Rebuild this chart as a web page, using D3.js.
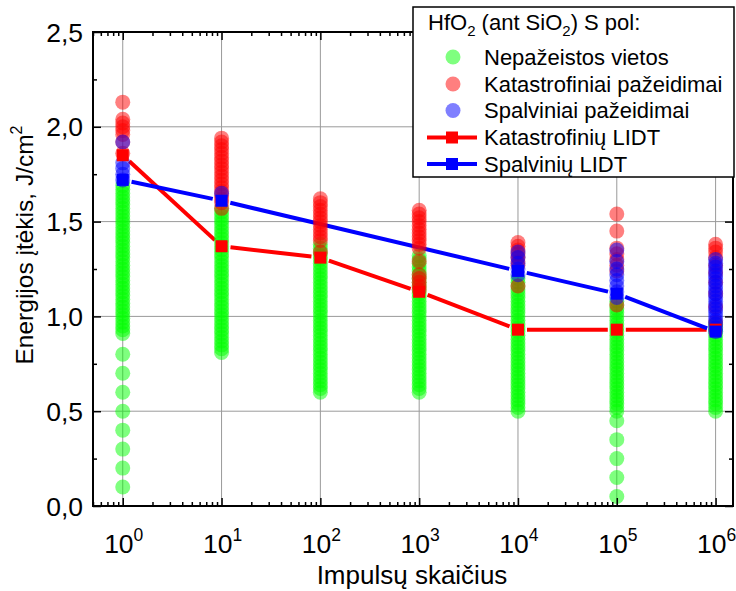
<!DOCTYPE html>
<html>
<head>
<meta charset="utf-8">
<script src="https://cdn.jsdelivr.net/npm/d3@7"></script>
<style>
body { margin: 0; background: #fff; }
svg { font-family: "Liberation Sans", Arial, sans-serif; }
</style>
</head>
<body>
<svg id="chart" width="736" height="591"></svg>
<script>
// pulse counts (x) for each column of measurements
let pulses = [1, 10, 100, 1000, 10000, 100000, 1000000];

// Nepažeistos vietos (undamaged sites), fluence J/cm2 per column
let intact = [
    [0.10, 0.20, 0.30, 0.40, 0.50, 0.60, 0.70, 0.80, 0.91, 0.93, 0.95, 0.97, 0.99, 1.01, 1.03, 1.05, 1.07, 1.09, 1.11, 1.13, 1.15, 1.17, 1.19, 1.21, 1.23, 1.25, 1.27, 1.29, 1.31, 1.33, 1.35, 1.37, 1.39, 1.41, 1.43, 1.45, 1.47, 1.49, 1.51, 1.53, 1.55, 1.57, 1.59, 1.61, 1.63, 1.65, 1.67, 1.69],
    [0.81, 0.83, 0.85, 0.87, 0.89, 0.91, 0.93, 0.95, 0.97, 0.99, 1.01, 1.03, 1.05, 1.07, 1.09, 1.11, 1.13, 1.15, 1.17, 1.19, 1.21, 1.23, 1.25, 1.27, 1.29, 1.31, 1.33, 1.35, 1.37, 1.39, 1.41, 1.43, 1.45, 1.47, 1.49, 1.51, 1.53, 1.55, 1.57],
    [0.60, 0.62, 0.64, 0.66, 0.68, 0.70, 0.72, 0.74, 0.76, 0.78, 0.80, 0.82, 0.84, 0.86, 0.88, 0.90, 0.92, 0.94, 0.96, 0.98, 1.00, 1.02, 1.04, 1.06, 1.08, 1.10, 1.12, 1.14, 1.16, 1.18, 1.20, 1.22, 1.24, 1.26, 1.28, 1.30, 1.32, 1.34, 1.36, 1.38],
    [0.60, 0.62, 0.64, 0.66, 0.68, 0.70, 0.72, 0.74, 0.76, 0.78, 0.80, 0.82, 0.84, 0.86, 0.88, 0.90, 0.92, 0.94, 0.96, 0.98, 1.00, 1.02, 1.04, 1.06, 1.08, 1.10, 1.12, 1.14, 1.16, 1.18, 1.20, 1.22, 1.24, 1.26, 1.28, 1.30, 1.32],
    [0.50, 0.52, 0.54, 0.56, 0.58, 0.60, 0.62, 0.64, 0.66, 0.68, 0.70, 0.72, 0.74, 0.76, 0.78, 0.80, 0.82, 0.84, 0.86, 0.88, 0.90, 0.92, 0.94, 0.96, 0.98, 1.00, 1.02, 1.04, 1.06, 1.08, 1.10, 1.12, 1.14, 1.16, 1.18, 1.20],
    [0.05, 0.15, 0.25, 0.35, 0.45, 0.50, 0.52, 0.54, 0.56, 0.58, 0.60, 0.62, 0.64, 0.66, 0.68, 0.70, 0.72, 0.74, 0.76, 0.78, 0.80, 0.82, 0.84, 0.86, 0.88, 0.90, 0.92, 0.94, 0.96, 0.98, 1.00, 1.02, 1.04, 1.06, 1.08],
    [0.50, 0.52, 0.54, 0.56, 0.58, 0.60, 0.62, 0.64, 0.66, 0.68, 0.70, 0.72, 0.74, 0.76, 0.78, 0.80, 0.82, 0.84, 0.86, 0.88, 0.90, 0.92, 0.94, 0.96]
];
// Katastrofiniai pažeidimai
let catastrophic = [
    [1.86, 1.92, 1.96, 1.98, 2.00, 2.02, 2.04, 2.13],
    [1.57, 1.60, 1.62, 1.64, 1.66, 1.68, 1.70, 1.72, 1.74, 1.76, 1.78, 1.80, 1.82, 1.84, 1.86, 1.88, 1.90, 1.92, 1.94],
    [1.34, 1.40, 1.42, 1.44, 1.46, 1.48, 1.50, 1.52, 1.54, 1.56, 1.58, 1.60, 1.62],
    [1.14, 1.16, 1.18, 1.20, 1.22, 1.29, 1.36, 1.38, 1.40, 1.42, 1.44, 1.46, 1.48, 1.50, 1.52, 1.54, 1.56],
    [1.16, 1.27, 1.29, 1.31, 1.33, 1.35, 1.37, 1.39],
    [1.06, 1.24, 1.27, 1.30, 1.33, 1.36, 1.45, 1.54],
    [0.97, 1.05, 1.12, 1.18, 1.23, 1.27, 1.31, 1.34, 1.36, 1.38]
];
// Spalviniai pažeidimai
let colour = [
    [1.72, 1.75, 1.78, 1.81, 1.92],
    [1.65],
    [],
    [],
    [1.22, 1.25, 1.28, 1.31, 1.34],
    [1.10, 1.13, 1.16, 1.19, 1.22, 1.25, 1.29, 1.35],
    [0.92, 0.94, 0.96, 0.98, 1.00, 1.02, 1.04, 1.06, 1.08, 1.10, 1.12, 1.14, 1.16, 1.18, 1.20, 1.22, 1.24, 1.26, 1.28, 1.30]
];
let catLidt = [1.85, 1.37, 1.31, 1.13, 0.93, 0.93, 0.93];
let colLidt = [1.72, 1.61, null, null, 1.24, 1.12, 0.92];

let yTicks = [0, 0.5, 1.0, 1.5, 2.0, 2.5];
let yMinor = [0.25, 0.75, 1.25, 1.75, 2.25];
let xTicks = [1, 10, 100, 1000, 10000, 100000, 1000000];
let xExp = ["0", "1", "2", "3", "4", "5", "6"];

let svg = d3.select("#chart");
let pL = 93, pR = 733, pT = 32, pB = 506;

let x = d3.scaleLog().domain([0.5, 1.5e6]).range([pL, pR]);
let y = d3.scaleLinear().domain([0, 2.5]).range([pB, pT]);

// grid
svg.append("g").selectAll("line").data(xTicks).enter().append("line")
    .attr("x1", d => x(d)).attr("x2", d => x(d))
    .attr("y1", pT).attr("y2", pB)
    .attr("stroke", "#9a9a9a").attr("stroke-width", 1);
svg.append("g").selectAll("line").data(yTicks.slice(1, 5)).enter().append("line")
    .attr("x1", pL).attr("x2", pR)
    .attr("y1", d => y(d)).attr("y2", d => y(d))
    .attr("stroke", "#9a9a9a").attr("stroke-width", 1);

// LIDT lines, with a gap around each symbol
let gap = 9;
let drawLine = function(vals, col) {
    let pts = [];
    vals.forEach((v, i) => { if (v != null) pts.push([x(pulses[i]), y(v)]); });
    let segs = [];
    for (let i = 0; i < pts.length - 1; i++) {
        let a = pts[i], b = pts[i + 1];
        let dx = b[0] - a[0], dy = b[1] - a[1];
        let len = Math.sqrt(dx * dx + dy * dy);
        segs.push([a[0] + dx / len * gap, a[1] + dy / len * gap, b[0] - dx / len * gap, b[1] - dy / len * gap]);
    }
    svg.append("g").selectAll("line").data(segs).enter().append("line")
        .attr("x1", d => d[0]).attr("y1", d => d[1])
        .attr("x2", d => d[2]).attr("y2", d => d[3])
        .attr("stroke", col).attr("stroke-width", 4);
};
drawLine(catLidt, "#ff0000");
drawLine(colLidt, "#0000ff");

// scatter
let flat = function(arr) {
    let out = [];
    arr.forEach((col, i) => col.forEach(v => out.push({ n: pulses[i], v: v })));
    return out;
};
let drawDots = function(arr, col) {
    svg.append("g").selectAll("circle").data(flat(arr)).enter().append("circle")
        .attr("cx", d => x(d.n)).attr("cy", d => y(d.v)).attr("r", 7.5)
        .attr("fill", col).attr("fill-opacity", 0.5);
};
drawDots(intact, "#00ff00");
drawDots(catastrophic, "#ff0000");
drawDots(colour, "#0000ff");

// LIDT symbols
let drawSquares = function(vals, col) {
    let pts = [];
    vals.forEach((v, i) => { if (v != null) pts.push({ n: pulses[i], v: v }); });
    svg.append("g").selectAll("rect").data(pts).enter().append("rect")
        .attr("x", d => x(d.n) - 6).attr("y", d => y(d.v) - 6)
        .attr("width", 12).attr("height", 12).attr("fill", col);
};
drawSquares(catLidt, "#ff0000");
drawSquares(colLidt, "#0000ff");

// axes (ticks inward on all four sides)
let minorX = x.ticks().filter(t => xTicks.indexOf(t) < 0);
let axStyle = function(g) {
    g.select(".domain").remove();
    g.selectAll(".tick line").attr("stroke", "#000").attr("stroke-width", 1.5);
    g.selectAll(".tick text").remove();
};
svg.append("g").attr("transform", `translate(0,${pB})`)
    .call(d3.axisBottom(x).tickValues(minorX).tickSize(-4)).call(axStyle);
svg.append("g").attr("transform", `translate(0,${pB})`)
    .call(d3.axisBottom(x).tickValues(xTicks).tickSize(-8)).call(axStyle);
svg.append("g").attr("transform", `translate(0,${pT})`)
    .call(d3.axisTop(x).tickValues(minorX).tickSize(-4)).call(axStyle);
svg.append("g").attr("transform", `translate(0,${pT})`)
    .call(d3.axisTop(x).tickValues(xTicks).tickSize(-8)).call(axStyle);
svg.append("g").attr("transform", `translate(${pL},0)`)
    .call(d3.axisLeft(y).tickValues(yTicks).tickSize(-8)).call(axStyle);
svg.append("g").attr("transform", `translate(${pL},0)`)
    .call(d3.axisLeft(y).tickValues(yMinor).tickSize(-4)).call(axStyle);
svg.append("g").attr("transform", `translate(${pR},0)`)
    .call(d3.axisRight(y).tickValues(yTicks).tickSize(-8)).call(axStyle);
svg.append("g").attr("transform", `translate(${pR},0)`)
    .call(d3.axisRight(y).tickValues(yMinor).tickSize(-4)).call(axStyle);

svg.append("rect").attr("x", pL).attr("y", pT)
    .attr("width", pR - pL).attr("height", pB - pT)
    .attr("fill", "none").attr("stroke", "#000").attr("stroke-width", 2);

// tick labels
svg.append("g").selectAll("text").data(yTicks).enter().append("text")
    .attr("x", 83).attr("y", d => y(d)).attr("dy", "0.36em")
    .attr("text-anchor", "end").attr("font-size", 26.5)
    .text(d => d3.format(".1f")(d).replace(".", ","));
let xl = svg.append("g").selectAll("text").data(xTicks).enter().append("text")
    .attr("x", d => x(d) + 1).attr("y", 553)
    .attr("text-anchor", "middle").attr("font-size", 26.5);
xl.append("tspan").text("10");
xl.append("tspan").attr("dy", -12).attr("font-size", 17.5).text((d, i) => xExp[i]);

// axis titles
svg.append("text").attr("x", 412).attr("y", 584).attr("text-anchor", "middle")
    .attr("font-size", 26).text("Impulsų skaičius");
let yt = svg.append("text").attr("transform", "translate(33,245) rotate(-90)")
    .attr("text-anchor", "middle").attr("font-size", 24.5);
yt.append("tspan").text("Energijos įtėkis, J/cm");
yt.append("tspan").attr("dy", -11).attr("font-size", 16).text("2");

// legend
let lg = svg.append("g");
lg.append("rect").attr("x", 413).attr("y", 7).attr("width", 321).attr("height", 170)
    .attr("fill", "#fff").attr("stroke", "#000").attr("stroke-width", 1.5);
let title = lg.append("text").attr("x", 428).attr("y", 30).attr("font-size", 22);
title.append("tspan").text("HfO");
title.append("tspan").attr("dy", 6).attr("font-size", 15).text("2");
title.append("tspan").attr("dy", -6).text(" (ant SiO");
title.append("tspan").attr("dy", 6).attr("font-size", 15).text("2");
title.append("tspan").attr("dy", -6).text(") S pol:");

let legendDots = [
    { label: "Nepažeistos vietos", col: "#00ff00" },
    { label: "Katastrofiniai pažeidimai", col: "#ff0000" },
    { label: "Spalviniai pažeidimai", col: "#0000ff" }
];
let legendLines = [
    { label: "Katastrofinių LIDT", col: "#ff0000" },
    { label: "Spalvinių LIDT", col: "#0000ff" }
];
let rowY = [57, 84, 110.5, 137.5, 164];
legendDots.forEach((d, i) => {
    lg.append("circle").attr("cx", 453).attr("cy", rowY[i]).attr("r", 7.5)
        .attr("fill", d.col).attr("fill-opacity", 0.5);
    lg.append("text").attr("x", 484).attr("y", rowY[i] + 7.5).attr("font-size", 22).text(d.label);
});
legendLines.forEach((d, i) => {
    let yy = rowY[i + 3];
    lg.append("line").attr("x1", 427).attr("x2", 477).attr("y1", yy).attr("y2", yy)
        .attr("stroke", d.col).attr("stroke-width", 4);
    lg.append("rect").attr("x", 446).attr("y", yy - 6).attr("width", 12).attr("height", 12)
        .attr("fill", d.col);
    lg.append("text").attr("x", 484).attr("y", yy + 7.5).attr("font-size", 22).text(d.label);
});
</script>
</body>
</html>
